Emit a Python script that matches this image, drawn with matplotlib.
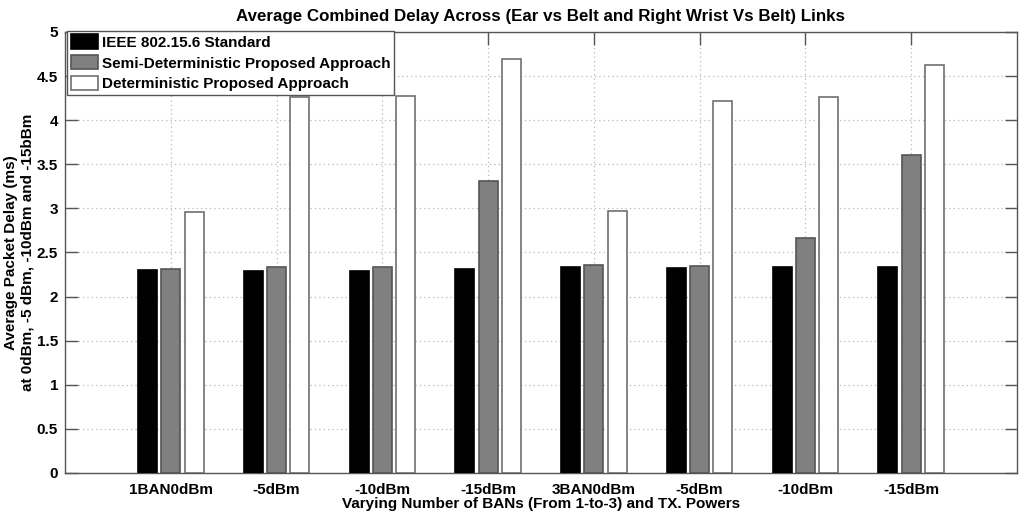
import matplotlib
matplotlib.use("Agg")
import matplotlib.pyplot as plt
import numpy as np

categories = ["1BAN0dBm", "-5dBm", "-10dBm", "-15dBm", "3BAN0dBm", "-5dBm", "-10dBm", "-15dBm"]
ieee = [2.30, 2.29, 2.29, 2.31, 2.33, 2.32, 2.34, 2.34]
semi = [2.31, 2.34, 2.34, 3.31, 2.36, 2.35, 2.67, 3.60]
deterministic = [2.96, 4.26, 4.27, 4.69, 2.965, 4.22, 4.26, 4.63]
series_names = ["IEEE 802.15.6 Standard", "Semi-Deterministic Proposed Approach",
                "Deterministic Proposed Approach"]
yticks = [0, 0.5, 1, 1.5, 2, 2.5, 3, 3.5, 4, 4.5, 5]
ytick_labels = ["0", "0.5", "1", "1.5", "2", "2.5", "3", "3.5", "4", "4.5", "5"]

plt.rcParams['font.family'] = ['Liberation Sans', 'DejaVu Sans']
plt.rcParams['font.weight'] = 'bold'

fig = plt.figure(figsize=(10.24, 5.15), dpi=100)
ax = fig.add_axes([65/1024, 1 - 473/515, (1017 - 65)/1024, (473 - 32)/515])

x = np.arange(1, len(categories) + 1)
w = 0.18
step = 0.22
fills = ["#000000", "#808080", "#ffffff"]
edges = ["#000000", "#555555", "#707070"]
data = [ieee, semi, deterministic]
for i, (vals, fc, ec, name) in enumerate(zip(data, fills, edges, series_names)):
    ax.bar(x + (i - 1) * step, vals, width=w, color=fc, edgecolor=ec, linewidth=1.2,
           label=name, zorder=3)

ax.set_xlim(0, 9)
ax.set_ylim(0, 5)
ax.set_xticks(x)
ax.set_xticklabels(categories, fontsize=11, fontweight='bold')
ax.set_yticks(yticks)
ax.set_yticklabels(ytick_labels, fontsize=11, fontweight='bold')
ax.tick_params(axis='both', direction='in', length=9, width=1, color='#555555',
               top=True, right=True)
ax.tick_params(axis='x', pad=7)
ax.tick_params(axis='y', pad=5)
ax.grid(True, linestyle=(0, (1, 2.5)), color='#b8b8b8', linewidth=0.9, zorder=0)
ax.set_axisbelow(True)
for s in ax.spines.values():
    s.set_color('#555555')
    s.set_linewidth(1.0)

ax.set_title("Average Combined Delay Across (Ear vs Belt and Right Wrist Vs Belt) Links",
             fontsize=12.2, fontweight='bold', pad=8)
ax.set_xlabel("Varying Number of BANs (From 1-to-3) and TX. Powers", fontsize=11,
              fontweight='bold', labelpad=0)
ax.set_ylabel("Average Packet Delay (ms)\nat 0dBm, -5 dBm, -10dBm and -15bBm", fontsize=11,
              fontweight='bold', labelpad=2, linespacing=1.2)

leg = ax.legend(loc='upper left', bbox_to_anchor=(1.7/952, 1.003), borderaxespad=0,
                fancybox=False, framealpha=1, edgecolor='#555555',
                prop={'size': 11, 'weight': 'bold'},
                handlelength=1.8, handleheight=1.05, handletextpad=0.25,
                labelspacing=0.36, borderpad=0.25)
leg.get_frame().set_linewidth(1.0)
leg.set_zorder(5)

fig.savefig("out.png", dpi=100)
